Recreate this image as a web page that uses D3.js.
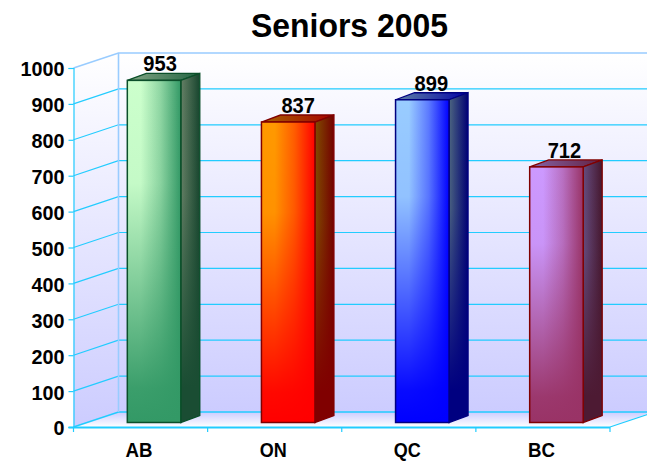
<!DOCTYPE html>
<html><head><meta charset="utf-8">
<style>html,body{margin:0;padding:0;background:#fff}svg{display:block}text{font-family:"Liberation Sans",Arial,sans-serif;font-weight:bold;fill:#000}</style>
<script src="https://cdn.jsdelivr.net/npm/d3@7"></script></head><body>
<script>
const chartTitle = "Seniors 2005";
const categories = ["AB","ON","QC","BC"];
const values = [953,837,899,712];
const yTicks = [0,100,200,300,400,500,600,700,800,900,1000];
const lightColors = ["#ccffcc","#ff9900","#99ccff","#cc99ff"];
const darkColors = ["#339966","#ff0000","#0000ff","#993366"];
const edgeColors = ["#0b4f2a","#800000","#000080","#800000"];

const W=647,H=463;
const svg=d3.select("body").append("svg").attr("width",W).attr("height",H);
const defs=svg.append("defs");
const x=d3.scaleBand().domain(categories).range([73.5,610]);
const y=d3.scaleLinear().domain([0,1000]).range([427,68]);
const depth={x:45,y:-15}, barDepth={x:19,y:-7}, barOff={x:13.5,y:-4.5}, barW=53.5;
const labelNudge=[6,10,9,8];
const mix=(a,b,t)=>d3.interpolateRgb(a,b)(t);

function lin(id,x2,y2,stops){
  const g=defs.append("linearGradient").attr("id",id).attr("x1",0).attr("y1",0).attr("x2",x2).attr("y2",y2);
  stops.forEach(s=>g.append("stop").attr("offset",s[0]).attr("stop-color",s[1]).attr("stop-opacity",s[2]===undefined?1:s[2]));
}
lin("wall",0,1,[[0,"#ffffff"],[1,"#ccccff"]]);
lin("floor",0,1,[[0,"#ccccff"],[1,"#ffffff"]]);

const rx=W+5;
const bx=x.range()[0]+depth.x, by=v=>y(v)+depth.y;
svg.append("rect").attr("x",bx).attr("y",by(1000)).attr("width",rx-bx).attr("height",by(0)-by(1000)).attr("fill","url(#wall)");
const lx=x.range()[0];
svg.append("path").attr("d",`M${lx},${y(1000)}L${bx},${by(1000)}L${bx},${by(0)}L${lx},${y(0)}Z`).attr("fill","url(#wall)");
const fr=x.range()[1];
svg.append("path").attr("d",`M${lx},${y(0)}L${bx},${by(0)}L${rx},${by(0)}L${fr},${y(0)}Z`).attr("fill","url(#floor)");

const grid="#22ccff";
yTicks.forEach(t=>{
  const c=t===1000?"#99ccff":grid;
  const w=(t===1000||t===0)?1.6:1.2;
  svg.append("path").attr("d",`M${lx},${y(t)}L${bx},${by(t)}L${rx},${by(t)}`).attr("fill","none").attr("stroke",c).attr("stroke-width",w);
});
svg.append("line").attr("x1",bx).attr("x2",bx).attr("y1",by(1000)).attr("y2",by(0)).attr("stroke","#99ccff").attr("stroke-width",1.6);
svg.append("line").attr("x1",fr).attr("y1",y(0)).attr("x2",rx).attr("y2",y(0)+depth.y*(rx-fr)/depth.x).attr("stroke",grid).attr("stroke-width",1.2);

const yAxis=d3.axisLeft(y).tickValues(yTicks).tickSize(5).tickPadding(4).tickFormat(d3.format("d"));
const gy=svg.append("g").attr("transform",`translate(${lx},0)`).call(yAxis);
gy.selectAll("path,line").attr("stroke",grid).attr("stroke-width",1.2);
gy.selectAll("text").attr("font-size",21).attr("dy","0.38em")
  .attr("textLength",d=>String(d).length*11).attr("lengthAdjust","spacingAndGlyphs");
const xAxis=d3.axisBottom(x).tickSizeOuter(0).tickSize(0).tickPadding(16);
const gx=svg.append("g").attr("transform",`translate(0,${y(0)})`).call(xAxis);
gx.select("path").attr("stroke",grid).attr("stroke-width",2).attr("d",`M${lx-5},0.5H${fr}`);
gx.selectAll("text").attr("font-size",20).attr("dy","0.71em").attr("x",-1.5)
  .attr("textLength",27).attr("lengthAdjust","spacingAndGlyphs");
const bounds=categories.map(c=>x(c)).concat([fr]);
gx.selectAll("line.b").data(bounds).enter().append("line").attr("class","b").attr("x1",d=>d).attr("x2",d=>d).attr("y1",0).attr("y2",5).attr("stroke",grid).attr("stroke-width",1.2);

const bars=svg.append("g").selectAll("g").data(categories).enter().append("g");
bars.each(function(c,i){
  const g=d3.select(this), v=values[i];
  const x0=x(c)+(x.bandwidth()-barW)/2+barOff.x, y0=y(v)+barOff.y, y1=y(0)+barOff.y;
  const L=lightColors[i],D=darkColors[i],E=edgeColors[i];
  lin("f"+i,1,0,[[0,L],[0.25,L],[0.62,mix(L,D,0.4)],[1,D]]);
  lin("v"+i,0,1,[[0,D,0],[0.3,D,0.05],[0.9,D,0.95],[1,D,1]]);
  lin("s"+i,1,0,[[0,mix(L,"#000",0.5)],[1,mix(D,"#000",0.55)]]);
  lin("sv"+i,0,1,[[0,mix(D,"#000",0.5),0],[0.35,mix(D,"#000",0.5),0.05],[0.9,mix(D,"#000",0.5),1],[1,mix(D,"#000",0.5),1]]);
  lin("t"+i,1,0,[[0,mix(L,"#000",0.35)],[1,mix(D,"#000",0.35)]]);
  const xb=x0+barW;
  g.append("path").attr("d",`M${x0},${y0}L${x0+barDepth.x},${y0+barDepth.y}L${xb+barDepth.x},${y0+barDepth.y}L${xb},${y0}Z`).attr("fill",`url(#t${i})`).attr("stroke",E).attr("stroke-width",1.3);
  const sp=`M${xb},${y0}L${xb+barDepth.x},${y0+barDepth.y}L${xb+barDepth.x},${y1+barDepth.y}L${xb},${y1}Z`;
  g.append("path").attr("d",sp).attr("fill",`url(#s${i})`);
  g.append("path").attr("d",sp).attr("fill",`url(#sv${i})`).attr("stroke",E).attr("stroke-width",1.3);
  g.append("rect").attr("x",x0).attr("y",y0).attr("width",barW).attr("height",y1-y0).attr("fill",`url(#f${i})`);
  g.append("rect").attr("x",x0).attr("y",y0).attr("width",barW).attr("height",y1-y0).attr("fill",`url(#v${i})`).attr("stroke",E).attr("stroke-width",1.5);
  g.append("text").attr("x",x0+barW/2+labelNudge[i]).attr("y",y0+barDepth.y-2).attr("text-anchor","middle").attr("font-size",21.5)
    .attr("textLength",33.5).attr("lengthAdjust","spacingAndGlyphs").text(v);
});
svg.append("text").attr("x",349.5).attr("y",37).attr("text-anchor","middle").attr("font-size",33)
  .attr("textLength",197).attr("lengthAdjust","spacingAndGlyphs").text(chartTitle);
</script></body></html>
